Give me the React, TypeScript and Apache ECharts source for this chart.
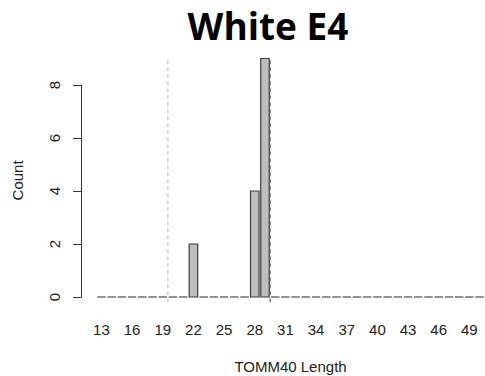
import React, { useEffect, useRef } from "react";
import * as echarts from "echarts";

const lengths: string[] = [];
for (let v = 13; v <= 50; v++) lengths.push(String(v));
const counts = [
  0, 0, 0, 0, 0, 0, 0, 0, 0, 2, 0, 0, 0, 0, 0, 4, 9, 0, 0, 0,
  0, 0, 0, 0, 0, 0, 0, 0, 0, 0, 0, 0, 0, 0, 0, 0, 0, 0,
];
const yTicks = [0, 2, 4, 6, 8];
const cutoffs = [
  { x: 19.5, color: "#c4c4c4" },
  { x: 29.5, color: "#5a5a5a" },
];
const titleText = "White E4";
const xName = "TOMM40 Length";
const yName = "Count";

export default function App() {
  const ref = useRef<HTMLDivElement>(null);
  useEffect(() => {
    if (!ref.current) return;
    const chart = echarts.init(ref.current, null, { renderer: "svg" });
    const font = "'Liberation Sans', Arial, sans-serif";
    const slot = 10.22;
    const gridLeft = 96.34;
    const gridW = slot * lengths.length;
    const unit = 26.5;
    const zeroY = 297;
    const yMin = -0.2;
    const yMax = 9;
    const g0Top = zeroY - yMax * unit;
    const g0H = (yMax - yMin) * unit;
    const option: any = {
      animation: false,
      backgroundColor: "#ffffff",
      graphic: [
        {
          type: "text",
          x: 268,
          y: 25,
          style: {
            text: titleText,
            fontFamily: "'Open Sans', Lato, sans-serif",
            fontWeight: "bold",
            fontSize: 37,
            fill: "#000",
            textAlign: "center",
            textVerticalAlign: "middle",
          },
        },
      ],
      grid: [
        {
          left: gridLeft,
          top: g0Top,
          width: gridW,
          height: g0H,
          containLabel: false,
          outerBoundsMode: "none",
        },
        {
          left: 81,
          top: zeroY - 8 * unit,
          width: 1,
          height: 8 * unit,
          containLabel: false,
          outerBoundsMode: "none",
        },
      ],
      xAxis: [
        {
          type: "category",
          gridIndex: 0,
          data: lengths,
          axisLine: { show: false },
          axisTick: { show: false },
          axisLabel: {
            interval: 2,
            fontFamily: font,
            fontSize: 15,
            color: "#222",
            margin: 20,
          },
          name: xName,
          nameLocation: "middle",
          nameGap: 57,
          nameTextStyle: { fontFamily: font, fontSize: 15, color: "#222" },
        },
        {
          type: "value",
          gridIndex: 0,
          min: 12.5,
          max: 12.5 + lengths.length,
          show: false,
        },
        { type: "value", gridIndex: 1, show: false },
      ],
      yAxis: [
        {
          type: "value",
          gridIndex: 0,
          min: yMin,
          max: yMax,
          axisLine: { show: false },
          axisTick: { show: false },
          axisLabel: { show: false },
          splitLine: { show: false },
          name: yName,
          nameLocation: "middle",
          nameGap: 71,
          nameRotate: 90,
          nameTextStyle: { fontFamily: font, fontSize: 15, color: "#222" },
        },
        {
          type: "value",
          gridIndex: 1,
          min: yTicks[0],
          max: yTicks[yTicks.length - 1],
          interval: 2,
          axisLine: { show: true, lineStyle: { color: "#333", width: 1 } },
          axisTick: { show: true, length: 8, lineStyle: { color: "#333" } },
          axisLabel: {
            rotate: 90,
            fontFamily: font,
            fontSize: 15,
            color: "#222",
            margin: 19,
          },
          splitLine: { show: false },
        },
      ],
      series: [
        ...cutoffs.map((c) => ({
          type: "line",
          xAxisIndex: 1,
          yAxisIndex: 0,
          data: [
            [c.x, yMin],
            [c.x, yMax],
          ],
          symbol: "none",
          lineStyle: { color: c.color, width: 1.2, type: [4, 3] },
          silent: true,
        })),
        {
          type: "custom",
          xAxisIndex: 0,
          yAxisIndex: 0,
          data: counts.map((v, i) => [i, v]),
          encode: { x: 0, y: 1 },
          renderItem: (params: any, api: any) => {
            const idx = api.value(0);
            const val = api.value(1);
            const base = api.coord([idx, 0]);
            const top = api.coord([idx, val]);
            const w = api.size([1, 0])[0] / 1.2;
            if (val > 0) {
              return {
                type: "rect",
                shape: {
                  x: base[0] - w / 2,
                  y: top[1],
                  width: w,
                  height: base[1] - top[1],
                },
                style: { fill: "#bebebe", stroke: "#3c3c3c", lineWidth: 1.2 },
              };
            }
            return {
              type: "line",
              shape: {
                x1: base[0] - w / 2,
                y1: base[1],
                x2: base[0] + w / 2,
                y2: base[1],
              },
              style: { stroke: "#4a4a4a", lineWidth: 1.2 },
            };
          },
        },
      ],
    };
    chart.setOption(option);
    return () => chart.dispose();
  }, []);
  return (
    <div
      ref={ref}
      style={{ position: "absolute", left: 0, top: 0, width: 485, height: 376 }}
    />
  );
}
